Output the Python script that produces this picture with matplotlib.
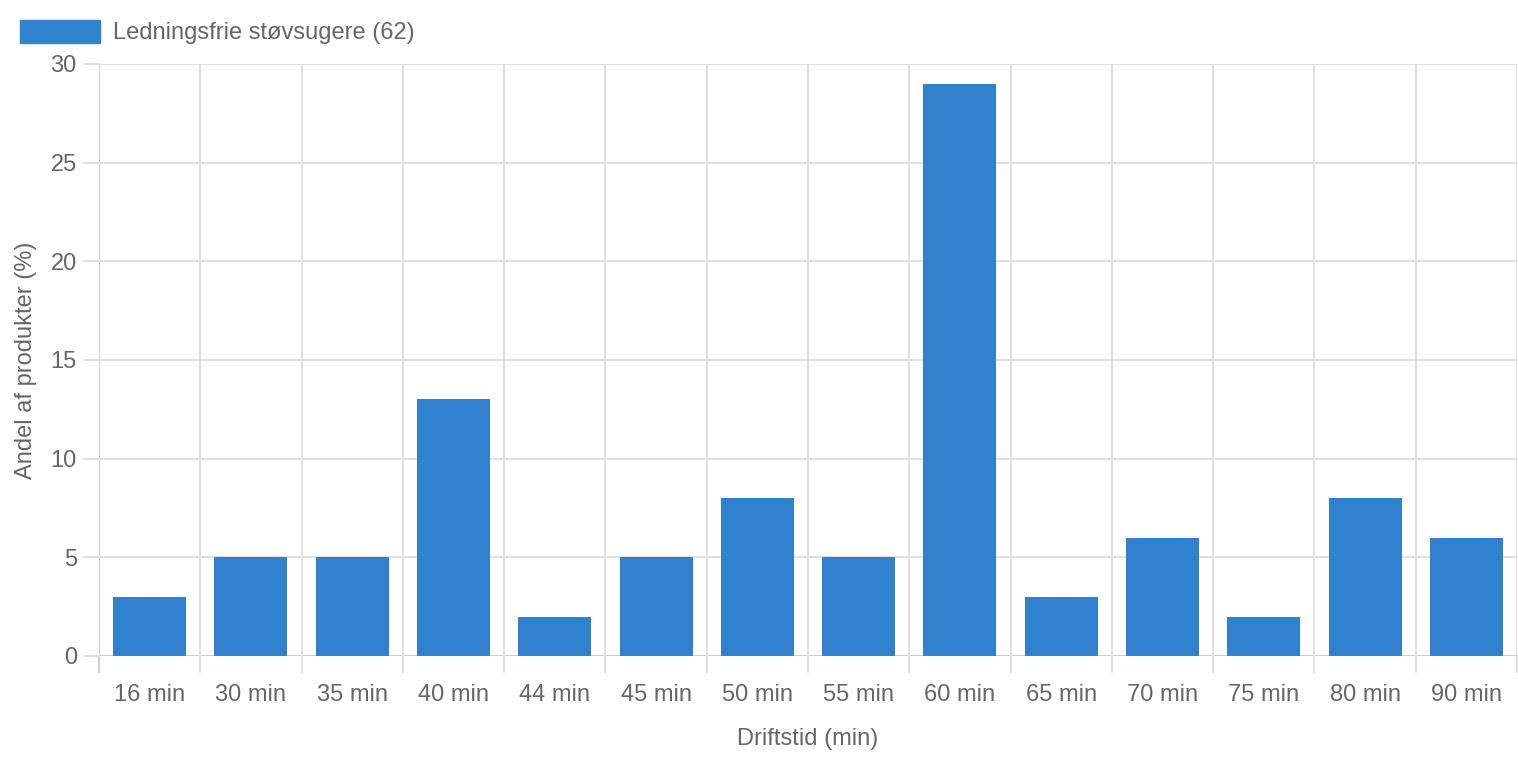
import matplotlib
matplotlib.use("Agg")
import matplotlib.pyplot as plt
import numpy as np

categories = ["16 min", "30 min", "35 min", "40 min", "44 min", "45 min", "50 min",
              "55 min", "60 min", "65 min", "70 min", "75 min", "80 min", "90 min"]
values = [3, 5, 5, 13, 2, 5, 8, 5, 29, 3, 6, 2, 8, 6]
series_name = "Ledningsfrie støvsugere (62)"
y_ticks = [0, 5, 10, 15, 20, 25, 30]

plt.rcParams['font.family'] = ['Liberation Sans', 'DejaVu Sans']
TXT = '#666666'
GRID = '#e0e0e0'
AXIS = '#cccccc'
BAR = '#3182ce'
FS = 17

W, H = 1518, 758
fig = plt.figure(figsize=(W / 100, H / 100), dpi=100)
L, R, T, B = 99, 1517, 64, 656
ax = fig.add_axes([L / W, 1 - B / H, (R - L) / W, (B - T) / H])

n = len(categories)
x = np.arange(n)
ax.bar(x, values, width=0.72, color=BAR, zorder=3, label=series_name)
ax.set_xlim(-0.5, n - 0.5)
ax.set_ylim(0, 30)

# grid lines at category boundaries (x) and at y ticks
for b in np.arange(-0.5, n, 1.0):
    ax.axvline(b, color=GRID if b > -0.5 else AXIS, lw=1.4, zorder=1)
for yt in y_ticks:
    ax.axhline(yt, color=GRID if yt > 0 else AXIS, lw=1.4, zorder=1)

for s in ax.spines.values():
    s.set_visible(False)

ax.set_yticks(y_ticks)
ax.set_yticklabels([str(v) for v in y_ticks])
ax.set_xticks(x)
ax.set_xticklabels(categories)
ax.tick_params(axis='both', colors=TXT, labelsize=FS, length=0)
ax.tick_params(axis='x', pad=20)
ax.tick_params(axis='y', pad=16)

# tick marks in grid colour extending outside the plot
tick_len = 16
for b in np.arange(-0.5, n, 1.0):
    ax.plot([b, b], [0, -tick_len / (B - T) * 30], color=GRID if b > -0.5 else AXIS,
            lw=1.4, clip_on=False, zorder=1)
xt = -0.5 - 15 / ((R - L) / n)
for yt in y_ticks:
    ax.plot([xt, -0.5], [yt, yt], color=GRID, lw=1.4, clip_on=False, zorder=1)

ax.set_xlabel("Driftstid (min)", color=TXT, fontsize=FS, labelpad=16)
ax.set_ylabel("Andel af produkter (%)", color=TXT, fontsize=FS, labelpad=10)

# legend
fig.patches.append(matplotlib.patches.Rectangle((20 / W, 1 - 43 / H), 80 / W, 23 / H,
                                                transform=fig.transFigure, color=BAR))
fig.text(113 / W, 1 - 33 / H, series_name, color=TXT, fontsize=FS, va='center', ha='left')

fig.savefig("out.png", dpi=100)
